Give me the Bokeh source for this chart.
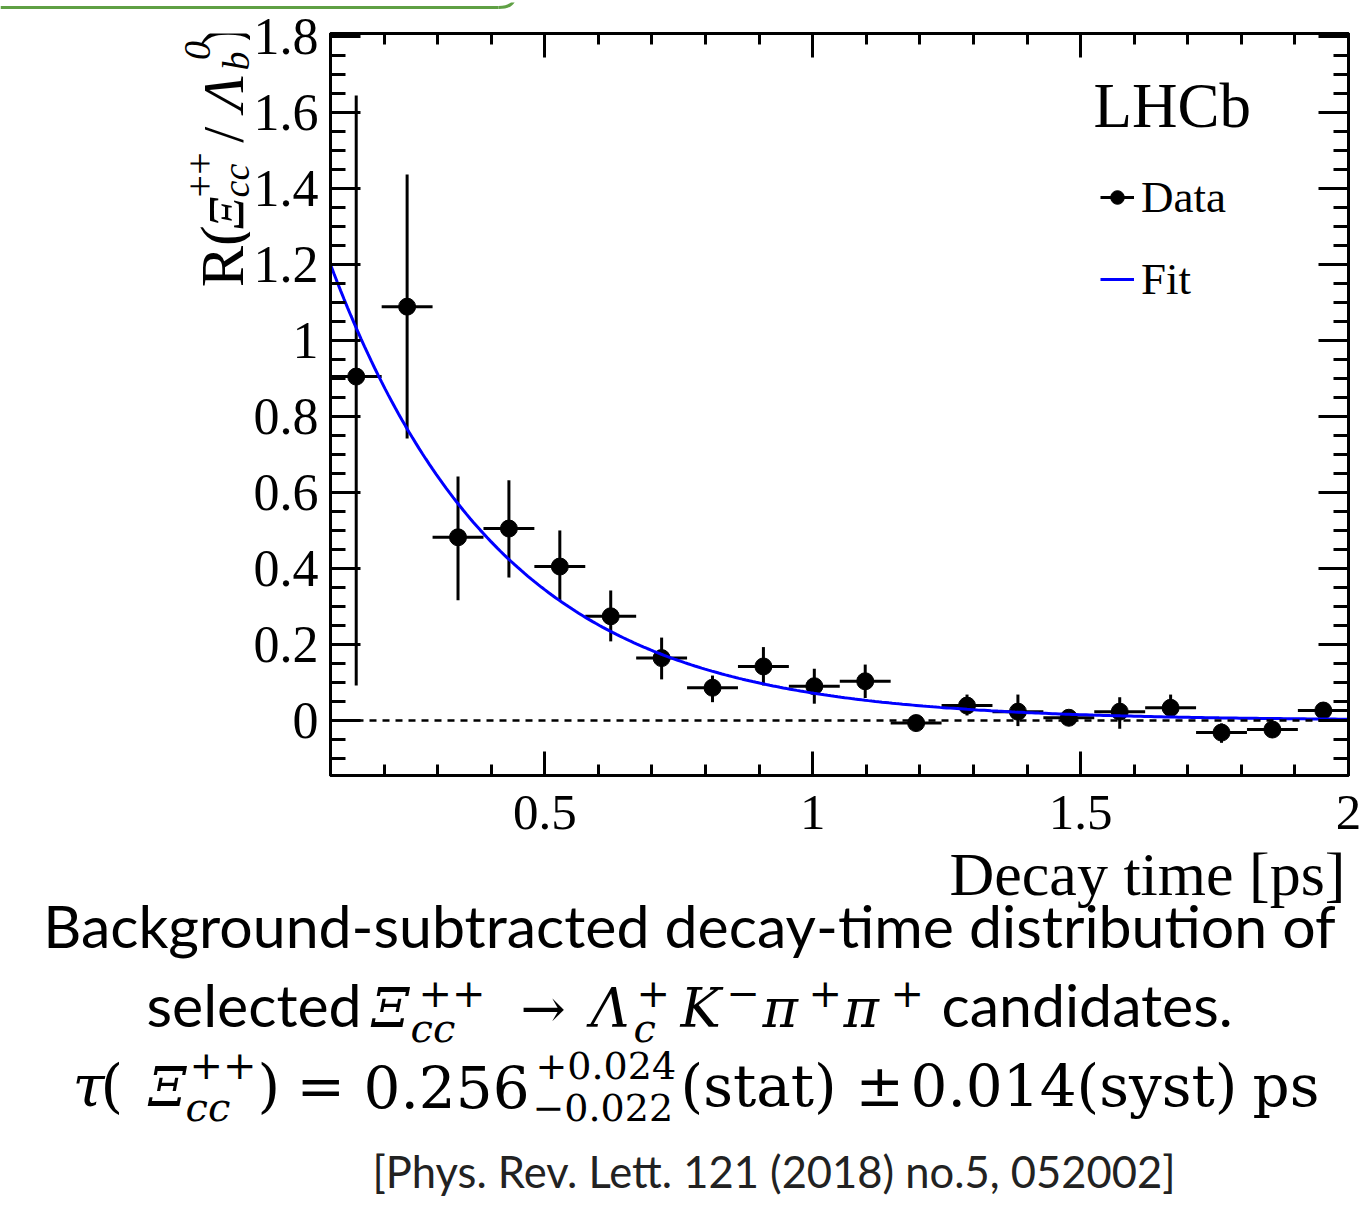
import numpy as np
from bokeh.plotting import figure
from bokeh.layouts import column, row
from bokeh.models import (Range1d, LinearAxis, FixedTicker, Label, Span,
                          Legend, LegendItem)
from bokeh.embed import file_html
from bokeh.resources import INLINE

# ---------------- data ----------------
t_center = [0.148, 0.243, 0.338, 0.433, 0.528, 0.623, 0.718, 0.813, 0.908, 1.003,
            1.098, 1.193, 1.288, 1.383, 1.478, 1.573, 1.668, 1.763, 1.858, 1.953]
t_halfwidth = 0.0475
r_val = [0.905, 1.089, 0.482, 0.505, 0.405, 0.274, 0.164, 0.086, 0.142, 0.090,
         0.103, -0.007, 0.039, 0.023, 0.007, 0.023, 0.033, -0.032, -0.024, 0.026]
r_err_lo = [0.813, 0.347, 0.166, 0.129, 0.089, 0.066, 0.056, 0.038, 0.050, 0.046,
            0.044, 0.010, 0.026, 0.038, 0.010, 0.045, 0.024, 0.027, 0.010, 0.021]
r_err_hi = [0.740, 0.348, 0.160, 0.127, 0.095, 0.068, 0.054, 0.032, 0.051, 0.046,
            0.044, 0.010, 0.029, 0.045, 0.010, 0.038, 0.035, 0.024, 0.010, 0.022]

# exponential fit model (parameters)
fit_t0 = 0.1
fit_norm = 1.2
fit_tau = 0.32

x_ticks = [0.5, 1.0, 1.5, 2.0]
x_tick_labels = ["0.5", "1", "1.5", "2"]
y_ticks = [0.0, 0.2, 0.4, 0.6, 0.8, 1.0, 1.2, 1.4, 1.6, 1.8]
y_tick_labels = ["0", "0.2", "0.4", "0.6", "0.8", "1", "1.2", "1.4", "1.6", "1.8"]
x_minor = [round(0.1 * i, 2) for i in range(1, 21)]
y_minor = [round(-0.15 + 0.05 * i, 2) for i in range(0, 40)]

SERIF = "Liberation Serif"
MATH = "DejaVu Serif"
SANS = "Lato"

# ---------------- layout geometry (page pixels) ----------------
TOP_STRIP = 10
LEFT_W = 250
MAIN_BL = 79
FRAME_W, FRAME_H = 1018, 742
MAIN_BT, MAIN_BR, MAIN_BB = 23, 14, 77
MID_H = MAIN_BT + FRAME_H + MAIN_BB
TOTAL_W = LEFT_W + MAIN_BL + FRAME_W + MAIN_BR
BOT_Y0 = TOP_STRIP + MID_H
BOT_H = 1205 - BOT_Y0


def blank(width, height):
    f = figure(width=width, height=height, x_range=Range1d(0, width),
               y_range=Range1d(height, 0), min_border=0,
               min_border_left=0, min_border_right=0, min_border_top=0,
               min_border_bottom=0, x_axis_location=None, y_axis_location=None,
               output_backend="svg", toolbar_location=None)
    f.grid.grid_line_color = None
    f.outline_line_color = None
    f.background_fill_color = "white"
    f.border_fill_color = "white"
    return f


# ---------------- top strip: edge of the slide's green box ----------------
GREEN = "#5fa044"
T = blank(TOTAL_W, TOP_STRIP)
T.line([0, 498], [5, 5], line_color=GREEN, line_width=3)
T.quadratic(x0=498, y0=5, x1=514, y1=-5, cx=513, cy=5, line_color=GREEN,
            line_width=3)

# ---------------- main figure ----------------
p = figure(frame_width=FRAME_W, frame_height=FRAME_H,
           min_border_left=MAIN_BL, min_border_right=MAIN_BR,
           min_border_top=MAIN_BT, min_border_bottom=MAIN_BB,
           x_range=Range1d(0.1, 2.0), y_range=Range1d(-0.145, 1.808),
           x_axis_location=None, y_axis_location=None,
           output_backend="svg", toolbar_location=None)
p.grid.grid_line_color = None
p.outline_line_color = "black"
p.outline_line_width = 3
p.background_fill_color = "white"
p.border_fill_color = "white"


def make_axis(ticks, labels, minor, tick_in, minor_in, show, size, standoff):
    ax = LinearAxis(ticker=FixedTicker(ticks=ticks, minor_ticks=minor),
                    major_tick_in=tick_in, major_tick_out=0,
                    minor_tick_in=minor_in, minor_tick_out=0,
                    major_tick_line_width=3, minor_tick_line_width=3,
                    axis_line_width=3, axis_line_color="black",
                    major_tick_line_color="black", minor_tick_line_color="black")
    if show:
        ax.major_label_overrides = dict(zip(ticks, labels))
        ax.major_label_text_font = SERIF
        ax.major_label_text_font_size = f"{size}px"
        ax.major_label_text_color = "black"
        ax.major_label_standoff = standoff
    else:
        ax.major_label_text_font_size = "0px"
        ax.major_label_standoff = 0
    return ax


p.add_layout(make_axis(x_ticks, x_tick_labels, x_minor, 24, 11, True, 51, 20), "below")
p.add_layout(make_axis(y_ticks, y_tick_labels, y_minor, 30, 15, True, 52, 12), "left")
p.add_layout(make_axis(x_ticks, x_tick_labels, x_minor, 24, 11, False, 0, 0), "above")
p.add_layout(make_axis(y_ticks, y_tick_labels, y_minor, 30, 15, False, 0, 0), "right")

p.add_layout(Span(location=0, dimension="width", line_color="black",
                  line_width=2.5, line_dash="7 6"))

tc = np.array(t_center)
rv = np.array(r_val)
vbar = p.segment(x0=tc, x1=tc, y0=rv - np.array(r_err_lo), y1=rv + np.array(r_err_hi),
                 line_color="black", line_width=3)
hbar = p.segment(x0=tc - t_halfwidth, x1=tc + t_halfwidth, y0=rv, y1=rv,
                 line_color="black", line_width=3)
pts = p.scatter(tc, rv, size=17, color="black")

t_fit = np.linspace(0.1, 2.0, 300)
r_fit = fit_norm * np.exp(-(t_fit - fit_t0) / fit_tau)
fit = p.line(t_fit, r_fit, line_color="#0000ff", line_width=3)

legend = Legend(items=[LegendItem(label="Data", renderers=[hbar, pts]),
                       LegendItem(label="Fit", renderers=[fit])],
                location=(770, 470), label_text_font=SERIF,
                label_text_color="black",
                label_text_font_size="45px", glyph_width=34, glyph_height=40,
                label_standoff=7, spacing=30, padding=0, margin=0,
                border_line_alpha=0, background_fill_alpha=0)
p.add_layout(legend)

# ---------------- text helpers ----------------
KOFF = {SERIF: 0.34, MATH: 0.35, SANS: 0.39}


def put(fig, text, X, Y, size, font=SERIF, style="normal", align="left",
        rotated=False, color="black", oy=0):
    """(X, Y) = page position of the start of the text baseline."""
    k = KOFF[font]
    if rotated:
        x, y, ang = X - k * size, Y - oy, np.pi / 2
    else:
        x, y, ang = X, Y - oy - k * size, 0.0
    fig.add_layout(Label(x=x, y=y, text=text, text_font=font,
                         text_font_size=f"{size}px", text_font_style=style,
                         text_align=align, text_baseline="middle", angle=ang,
                         text_color=color))


p.add_layout(Label(x=1092 - 329, y=775 - (127 - KOFF[SERIF] * 63), x_units="screen",
                   y_units="screen", text="LHCb", text_font=SERIF,
                   text_font_size="63px", text_baseline="middle",
                   text_color="black"))

# ---------------- left panel: rotated y title R(Ξcc++ / Λb0) ----------------
L = blank(LEFT_W, MID_H)


def pl(text, X, Y, size, **kw):
    put(L, text, X, Y, size, rotated=True, oy=TOP_STRIP, **kw)


pl("R(", 243, 298, 62)
pl("Ξ", 242, 232, 50, style="italic")
pl("cc", 248, 196, 38, style="italic")
pl("++", 213, 196, 40)
pl("/", 243, 134, 58)
pl("Λ", 243, 98, 58, style="italic")
pl("b", 248, 52, 38, style="italic")
pl("0", 210, 40, 38, style="italic")
pl(")", 243, 25, 62)

# ---------------- bottom panel: x title + caption ----------------
B = blank(TOTAL_W, BOT_H)


def pb(text, X, Y, size, **kw):
    put(B, text, X, Y, size, oy=BOT_Y0, **kw)


pb("Decay time [ps]", 1345, 895, 62, align="right")
pb("Background-subtracted decay-time distribution of", 689, 948, 59, font=SANS, align="center")

Y2, S2, U2, D2, s2 = 1027, 54, 1006, 1041, 40
pb("selected", 146, Y2, 59, font=SANS)
pb("Ξ", 371, Y2, S2, font=MATH, style="italic")
pb("cc", 410, D2, s2, font=MATH, style="italic")
pb("++", 418, U2, s2, font=MATH)
pb("→", 520, Y2, S2, font=MATH)
pb("Λ", 590, Y2, S2, font=MATH, style="italic")
pb("c", 633, D2, s2, font=MATH, style="italic")
pb("+", 636, U2, s2, font=MATH)
pb("K", 680, Y2, S2, font=MATH, style="italic")
pb("−", 726, U2, s2, font=MATH)
pb("π", 762, Y2, S2, font=MATH, style="italic")
pb("+", 808, U2, s2, font=MATH)
pb("π", 843, Y2, S2, font=MATH, style="italic")
pb("+", 890, U2, s2, font=MATH)
pb("candidates.", 941, Y2, 59, font=SANS)

Y3, S3, U3, D3 = 1106, 58, 1078, 1120
pb("τ", 72, Y3, S3, font=MATH, style="italic")
pb("(", 100, Y3, S3, font=MATH)
pb("Ξ", 148, Y3, 54, font=MATH, style="italic")
pb("cc", 185, D3, 40, font=MATH, style="italic")
pb("++", 189, U3, 40, font=MATH)
pb(")", 257, Y3, S3, font=MATH)
pb("=", 296, Y3, S3, font=MATH)
pb("0.256", 363, Y3, S3, font=MATH)
pb("+0.024", 535, U3, 38, font=MATH)
pb("−0.022", 532, D3, 38, font=MATH)
pb("(stat)", 680, Y3, S3, font=MATH)
pb("±", 855, Y3, S3, font=MATH)
pb("0.014(syst)", 910, Y3, S3, font=MATH)
pb("ps", 1252, Y3, S3, font=MATH)

pb("[Phys. Rev. Lett. 121 (2018) no.5, 052002]", 372, 1187, 43.5, font=SANS, color="#222222")

layout = column(T, row(L, p, spacing=0), B, spacing=0)
open("out.html", "w").write(file_html(layout, INLINE))
